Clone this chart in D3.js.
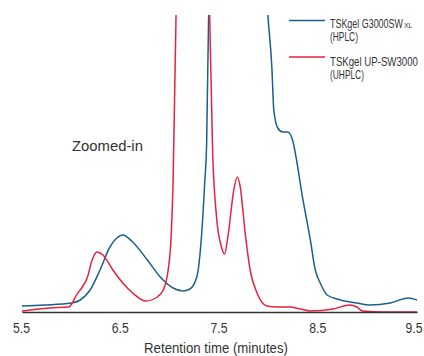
<!DOCTYPE html>
<html>
<head>
<meta charset="utf-8">
<script src="https://cdn.jsdelivr.net/npm/d3@7"></script>
<style>
  body { margin: 0; background: #fff; }
  text { font-family: "Liberation Sans", Arial, sans-serif; fill: #333; }
</style>
</head>
<body>
<div id="graphic"></div>
<script>
// Retention time (min) / signal height
var hplcTime = [5.5, 5.73, 6.0, 6.09, 6.19, 6.29, 6.39, 6.46, 6.52, 6.62, 6.77, 6.90, 7.03, 7.13, 7.20, 7.27, 7.32, 7.35, 7.37, 7.39, 7.41, 7.61, 7.86, 7.97, 7.99, 8.03, 8.05, 8.09, 8.14, 8.19, 8.24, 8.28, 8.34, 8.37, 8.42, 8.47, 8.52, 8.59, 8.69, 8.89, 9.02, 9.23, 9.41, 9.5];
var hplcSignal = [6, 7, 9, 12, 22, 42, 65, 74, 77, 70, 52, 35, 24, 21, 23, 35, 79, 129, 170, 297, 500, 700, 600, 330, 297, 245, 202, 184, 180, 180, 172, 152, 115, 99, 72, 42, 29, 17, 13, 9, 7, 9, 14, 12];

var uhplcTime = [5.5, 5.78, 5.97, 6.01, 6.04, 6.11, 6.16, 6.21, 6.26, 6.32, 6.42, 6.52, 6.62, 6.75, 6.87, 6.93, 6.98, 7.01, 7.03, 7.06, 7.10, 7.23, 7.36, 7.40, 7.43, 7.47, 7.52, 7.55, 7.59, 7.64, 7.68, 7.71, 7.76, 7.81, 7.88, 7.98, 8.08, 8.21, 8.32, 8.42, 8.65, 8.82, 8.89, 8.95, 9.15, 9.5];
var uhplcSignal = [1, 4, 5, 9, 15, 25, 34, 52, 60, 57, 42, 29, 19, 11, 15, 22, 42, 75, 130, 297, 600, 900, 600, 297, 162, 95, 65, 58, 79, 119, 135, 125, 79, 42, 19, 6, 5, 5, 3, 1, 3, 7, 5, 1, 0, 0];

var tickValues = [5.5, 6.5, 7.5, 8.5, 9.5];

var svgWidth = 424;
var svgHeight = 356;

var svg = d3.select("#graphic")
    .append("svg")
    .attr("width", svgWidth)
    .attr("height", svgHeight);

var x = d3.scaleLinear().domain([5.5, 9.5]).range([22, 417]);
var y = d3.scaleLinear().domain([0, 297]).range([312, 15]);

// condensed look: squeeze text horizontally to the width it has in the picture
function label(g, px, py, str, size, len, anchor) {
    var t = g.append("text")
        .style("font-size", size + "px")
        .style("text-anchor", anchor || "start")
        .text(str);
    var k = Math.min(1, len / t.node().getComputedTextLength());
    t.attr("transform", "translate(" + px + "," + py + ") scale(" + k + ",1)");
    return t;
}

svg.append("clipPath")
    .attr("id", "plot-clip")
    .append("rect")
    .attr("x", 0).attr("y", 15)
    .attr("width", svgWidth).attr("height", 300);

var line = d3.line()
    .x(function(d) { return x(d[0]); })
    .y(function(d) { return y(d[1]); })
    .curve(d3.curveMonotoneX);

var series = [
    { name: "hplc", color: "#1b5f8c", pts: d3.zip(hplcTime, hplcSignal) },
    { name: "uhplc", color: "#e8213f", pts: d3.zip(uhplcTime, uhplcSignal) }
];

var plot = svg.append("g").attr("clip-path", "url(#plot-clip)");
plot.selectAll("path")
    .data(series)
    .enter()
    .append("path")
    .attr("d", function(d) { return line(d.pts); })
    .attr("fill", "none")
    .attr("stroke", function(d) { return d.color; })
    .attr("stroke-width", 1.5);

// x axis (labels drawn separately so they can be squeezed like the rest)
var axis = svg.append("g")
    .attr("transform", "translate(0,312)")
    .call(d3.axisBottom(x).tickValues(tickValues).tickSize(0).tickFormat(""));
axis.select(".domain").attr("stroke", "#333").attr("stroke-width", 1.3);

tickValues.forEach(function(v) {
    var px = v === 9.5 ? x(v) - 3 : x(v) - 0.5;
    label(svg, px, 333, d3.format(".1f")(v), 14, 17, "middle");
});

label(svg, 216, 353, "Retention time (minutes)", 14.5, 144, "middle");
label(svg, 72, 151, "Zoomed-in", 15, 71);

// legend
var legend = svg.append("g");
legend.append("line").attr("x1", 289).attr("x2", 325).attr("y1", 20.5).attr("y2", 20.5)
    .attr("stroke", series[0].color).attr("stroke-width", 1.5);
label(legend, 330, 28, "TSKgel G3000SW", 13, 73);
label(legend, 404, 28, "XL", 8, 8.5);
label(legend, 330, 41, "(HPLC)", 13, 28);

legend.append("line").attr("x1", 289).attr("x2", 325).attr("y1", 57).attr("y2", 57)
    .attr("stroke", series[1].color).attr("stroke-width", 1.5);
label(legend, 330, 65.5, "TSKgel UP-SW3000", 13, 88);
label(legend, 330, 78.5, "(UHPLC)", 13, 34);
</script>
</body>
</html>
